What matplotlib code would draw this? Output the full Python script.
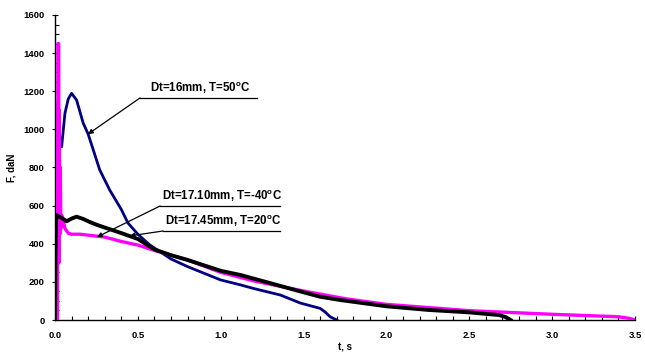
import matplotlib.pyplot as plt
from matplotlib.ticker import MultipleLocator

plt.rcParams['font.family'] = ['Liberation Sans', 'DejaVu Sans']
plt.rcParams['font.weight'] = 'bold'
plt.rcParams['mathtext.default'] = 'regular'

# Dt=16mm, T=50C (blue)
t_50 = [0.0, 0.012, 0.013, 0.016, 0.02, 0.04, 0.06, 0.08, 0.1, 0.13, 0.17, 0.2, 0.27,
        0.33, 0.4, 0.44, 0.5, 0.57, 0.7, 0.8, 1.0, 1.12, 1.2, 1.36, 1.48, 1.6, 1.63,
        1.66, 1.7]
f_50 = [0, 0, 1133, 1130, 1000, 909, 1085, 1160, 1189, 1154, 1033, 975, 787,
        682, 580, 509, 450, 395, 320, 280, 210, 184, 165, 131, 89, 61, 42,
        17, 0]

# Dt=17.45mm, T=20C (magenta)
t_20 = [0.0, 0.015, 0.017, 0.022, 0.024, 0.026, 0.029, 0.032, 0.035, 0.04, 0.05, 0.06,
        0.08, 0.1, 0.15, 0.2, 0.3, 0.4, 0.5, 0.6, 0.7, 0.8, 1.0, 1.2, 1.5, 1.75,
        2.0, 2.5, 3.0, 3.4, 3.47, 3.5]
f_20 = [0, 0, 1450, 1450, 300, 1100, 450, 800, 480, 550, 520, 480,
        455, 450, 450, 445, 435, 412, 393, 365, 340, 315, 250, 205, 152, 112,
        82, 49, 30, 17, 8, 0]

# Dt=17.10mm, T=-40C (black)
t_40 = [0.0, 0.003, 0.006, 0.01, 0.02, 0.03, 0.05, 0.07, 0.1, 0.13, 0.17, 0.21,
        0.25, 0.29, 0.4, 0.5, 0.6, 0.7, 0.8, 1.0, 1.12, 1.25, 1.48, 1.6, 1.72,
        2.0, 2.25, 2.5, 2.68, 2.72, 2.75]
f_40 = [0, 350, 520, 550, 545, 540, 530, 518, 532, 542, 530, 514,
        500, 488, 456, 425, 370, 340, 315, 258, 236, 205, 150, 122, 105,
        72, 53, 40, 26, 15, 0]

fig = plt.figure(figsize=(6.45, 3.56), dpi=100)
ax = fig.add_axes([0.0853, 0.1011, 0.8992, 0.8568])

ax.plot(t_50, f_50, color='#000080', lw=2.0, zorder=2)
ax.plot(t_20, f_20, color='#ff00ff', lw=2.4, zorder=3)
ax.plot(t_40, f_40, color='black', lw=2.8, zorder=4)

ax.set_xlim(0, 3.5)
ax.set_ylim(0, 1600)
ax.spines['top'].set_visible(False)
ax.spines['right'].set_visible(False)
ax.spines['left'].set_linewidth(1.0)
ax.spines['bottom'].set_linewidth(1.0)

ax.xaxis.set_major_locator(MultipleLocator(0.5))
ax.xaxis.set_minor_locator(MultipleLocator(0.1))
ax.yaxis.set_major_locator(MultipleLocator(200))
ax.yaxis.set_minor_locator(MultipleLocator(50))
ax.xaxis.set_major_formatter(plt.FuncFormatter(lambda v, p: f'{v:.1f}'))
ax.tick_params(axis='x', which='both', direction='in', length=3, width=0.8,
               labelsize=6.8, pad=8)
ax.tick_params(axis='y', which='major', direction='inout', length=5, width=0.8,
               labelsize=6.8, pad=5)
ax.tick_params(axis='y', which='minor', direction='in', length=3, width=0.8)

ax.set_xlabel('t, s', fontsize=7, fontweight='bold', labelpad=2)
ax.set_ylabel('F, daN', fontsize=7, fontweight='bold', labelpad=5)

labels = ['Dt=16mm, T=50$^{o}$C', 'Dt=17.10mm, T=-40$^{o}$C', 'Dt=17.45mm, T=20$^{o}$C']
tips = [(0.199, 975), (0.253, 435), (0.45, 441)]
starts = [(0.513, 1165), (0.634, 598), (0.652, 467)]
ends = [1.219, 1.358, 1.358]
for lab, tip, st, x1 in zip(labels, tips, starts, ends):
    ax.annotate('', xy=tip, xytext=st,
                arrowprops=dict(arrowstyle='-|>', color='black', lw=0.9,
                                mutation_scale=7, shrinkA=0, shrinkB=0), zorder=6)
    ax.plot([st[0], x1], [st[1], st[1]], color='black', lw=0.9, zorder=6)
    ax.text((st[0] + x1) / 2 + 0.01, st[1] + 12, lab, ha='center', va='bottom',
            fontsize=8.3, fontweight='bold', zorder=6)

fig.savefig('out.png', dpi=100)
